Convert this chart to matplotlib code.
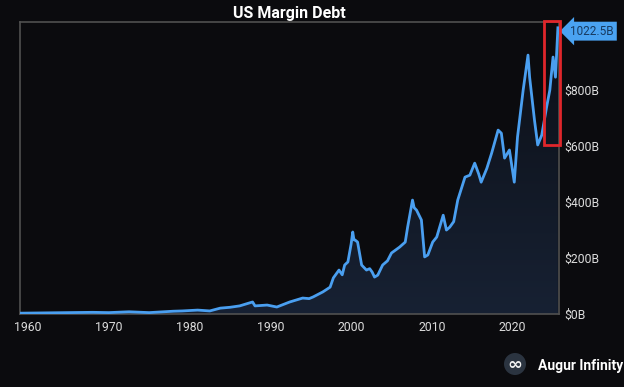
import numpy as np
from matplotlib import pyplot as plt
from matplotlib.colors import LinearSegmentedColormap
from matplotlib.patches import Rectangle, Circle, Polygon

# US margin debt, billions of dollars
years = [1959.0, 1962.0, 1965.0, 1968.0, 1970.0, 1972.5, 1975.0, 1978.0, 1979.1, 1981.0,
         1982.5, 1983.8, 1985.0, 1986.2, 1987.0, 1987.8, 1988.1, 1989.6, 1990.8, 1992.4,
         1994.0, 1994.8, 1995.3, 1996.5, 1997.4, 1997.8, 1998.5, 1998.9, 1999.2, 1999.6,
         2000.0, 2000.2, 2000.35, 2000.5, 2000.8, 2001.3, 2001.9, 2002.3, 2002.6, 2002.9,
         2003.3, 2003.9, 2004.5, 2005.0, 2006.0, 2006.7, 2007.0, 2007.6, 2007.8, 2008.1,
         2008.7, 2009.1, 2009.5, 2010.1, 2010.6, 2011.4, 2011.8, 2012.2, 2012.7, 2013.2,
         2014.1, 2014.7, 2015.3, 2015.8, 2016.1, 2016.8, 2017.4, 2018.2, 2018.6, 2019.0,
         2019.6, 2020.2, 2020.6, 2021.3, 2021.9, 2022.1, 2022.7, 2023.1, 2023.6, 2024.2,
         2024.6, 2025.0, 2025.3, 2025.6]
debt_b = [3, 4, 5, 6, 5, 8, 5, 10, 11, 14,
          11, 21, 24, 29, 36, 43, 29, 32, 25, 43,
          57, 55, 61, 79, 96, 129, 157, 140, 175, 186,
          250, 293, 265, 264, 257, 175, 157, 162, 150, 132,
          139, 175, 190, 218, 239, 257, 311, 407, 380, 371,
          336, 204, 211, 257, 275, 353, 300, 310, 330, 407,
          489, 496, 539, 500, 471, 520, 575, 657, 646, 557,
          586, 471, 632, 800, 925, 846, 693, 604, 639, 739,
          800, 918, 846, 1022.5]

x_ticks = [1960, 1970, 1980, 1990, 2000, 2010, 2020]
y_ticks = [0, 200, 400, 600, 800]
last_label = "1022.5B"

bg = '#0b0b0e'
line_col = '#4a9ff0'
txt_col = '#dcdcdc'

plt.rcParams['font.family'] = ['Roboto', 'DejaVu Sans']

fig = plt.figure(figsize=(6.24, 3.87), dpi=100, facecolor=bg)
ax = fig.add_axes([0.032, 0.1886, 0.864, 0.7544])
ax.set_facecolor(bg)

x = np.array(years)
y = np.array(debt_b)
ax.set_xlim(1959.0, 2025.75)
ax.set_ylim(0, 1043)

# gradient fill under the line
grad = np.linspace(0, 1, 256).reshape(-1, 1)
cmap = LinearSegmentedColormap.from_list('g', ['#172133', '#0c0f16'])
im = ax.imshow(grad, extent=[1959.0, 2025.75, 0, 1043], origin='lower',
               aspect='auto', cmap=cmap, zorder=1)
poly = Polygon(np.column_stack([np.r_[x, x[-1], x[0]], np.r_[y, 0, 0]]),
               closed=True, facecolor='none', edgecolor='none')
ax.add_patch(poly)
im.set_clip_path(poly)

ax.plot(x, y, color=line_col, lw=2, zorder=3, solid_joinstyle='round')

for s in ax.spines.values():
    s.set_color('#505050')
    s.set_linewidth(1.2)

ax.set_xticks(x_ticks)
ax.set_xticklabels([str(t) for t in x_ticks])
ax.set_yticks(y_ticks)
ax.set_yticklabels(['$%dB' % t for t in y_ticks])
ax.yaxis.tick_right()
ax.tick_params(length=0, colors=txt_col, labelsize=8.8, pad=4)
ax.tick_params(axis='x', pad=5)

ax.set_title('US Margin Debt', color='white', fontsize=11.5, fontweight='bold', pad=3)

# highlight box on the latest move
ax.add_patch(Rectangle((2023.9, 604), 1.95, 442, fill=False, edgecolor='#e0262b',
                       lw=2, clip_on=False, zorder=5))

# last value callout
ax.annotate(last_label, xy=(1, y[-1] - 12), xycoords=('axes fraction', 'data'),
            xytext=(8, 0), textcoords='offset points', va='center', ha='left',
            fontsize=8.5, color='#173a60',
            bbox=dict(boxstyle='larrow,pad=0.25', fc='#4aa3f2', ec='none'),
            annotation_clip=False)

# brand mark
fig.patches.append(Circle((515, 387 - 364), 11, transform=None,
                          facecolor='#2b3440', edgecolor='none'))
fig.text(515 / 624, 1 - 365 / 387, '\u221e', color='#f0f0f0', fontsize=13,
         ha='center', va='center', family='DejaVu Sans', fontweight='bold')
fig.text(538 / 624, 1 - 366 / 387, 'Augur Infinity', color='white', fontsize=10,
         fontweight='bold', ha='left', va='center')

fig.savefig('out.png', dpi=100, facecolor=bg)
